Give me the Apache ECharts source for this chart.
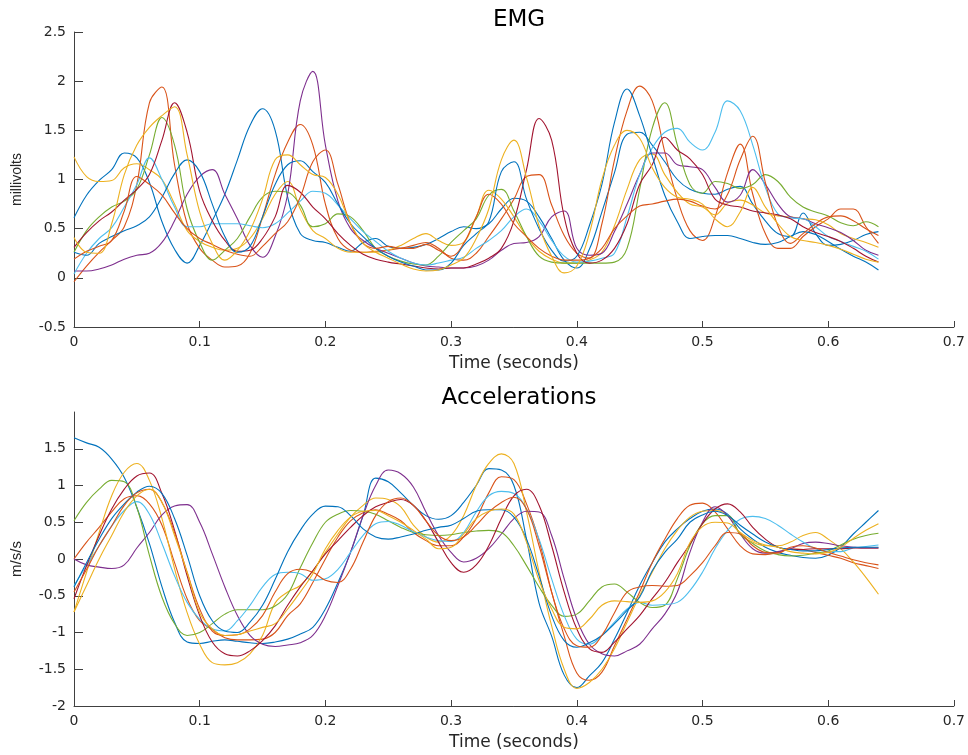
<!DOCTYPE html>
<html>
<head>
<meta charset="utf-8">
<script src="https://cdn.jsdelivr.net/npm/echarts@6/dist/echarts.min.js"></script>
<style>html,body{margin:0;padding:0;background:#fff;}#c{width:968px;height:755px;}</style>
</head>
<body>
<div id="c"></div>
<script>
// sample times (seconds)
const time = [0,0.01,0.02,0.03,0.04,0.05,0.06,0.07,0.08,0.09,0.10,0.11,0.12,0.13,0.14,0.15,0.16,0.17,0.18,0.19,0.20,0.21,0.22,0.23,0.24,0.25,0.26,0.27,0.28,0.29,0.30,0.31,0.32,0.33,0.34,0.35,0.36,0.37,0.38,0.39,0.40,0.41,0.42,0.43,0.44,0.45,0.46,0.47,0.48,0.49,0.50,0.51,0.52,0.53,0.54,0.55,0.56,0.57,0.58,0.59,0.60,0.61,0.62,0.63,0.64];

// EMG (millivolts)
const emgBlue1 = [0.61,0.84,0.99,1.10,1.27,1.22,0.97,0.57,0.29,0.15,0.33,0.58,0.85,1.20,1.55,1.72,1.50,0.82,0.45,0.38,0.36,0.31,0.27,0.36,0.40,0.32,0.30,0.31,0.34,0.40,0.47,0.52,0.50,0.55,0.70,0.81,0.78,0.62,0.40,0.18,0.10,0.29,0.67,1.07,1.46,1.48,1.35,1.18,1.00,0.90,0.86,0.85,0.90,0.93,0.75,0.58,0.45,0.42,0.66,0.45,0.33,0.34,0.38,0.44,0.47];
const emgOrange1 = [-0.04,0.12,0.26,0.38,0.52,0.95,1.78,1.94,1.15,0.55,0.30,0.18,0.11,0.12,0.25,0.62,1.05,1.38,1.56,1.35,0.75,0.40,0.28,0.26,0.27,0.28,0.30,0.33,0.36,0.30,0.20,0.18,0.25,0.42,0.60,0.80,1.03,1.05,0.74,0.43,0.25,0.20,0.55,1.20,1.70,1.95,1.80,1.28,0.80,0.48,0.38,0.62,1.07,1.36,0.85,0.45,0.30,0.30,0.42,0.52,0.60,0.70,0.70,0.52,0.35];
const emgYellow1 = [1.23,1.03,0.98,0.99,1.12,1.16,1.10,1.00,0.75,0.48,0.37,0.31,0.28,0.30,0.40,0.60,0.85,0.98,0.70,0.48,0.40,0.30,0.26,0.26,0.26,0.28,0.33,0.40,0.45,0.38,0.33,0.36,0.62,0.89,0.80,0.62,0.42,0.27,0.19,0.15,0.15,0.18,0.26,0.53,0.90,1.20,1.26,1.05,0.87,0.75,0.72,0.64,0.76,0.79,0.74,0.66,0.63,0.62,0.60,0.59,0.54,0.45,0.40,0.36,0.31];
const emgPurple = [0.07,0.07,0.09,0.13,0.19,0.23,0.25,0.36,0.58,0.85,1.03,1.10,0.85,0.60,0.33,0.21,0.42,0.85,1.80,2.10,1.35,0.78,0.50,0.38,0.30,0.25,0.20,0.15,0.12,0.11,0.10,0.10,0.12,0.18,0.28,0.35,0.36,0.42,0.62,0.68,0.30,0.23,0.25,0.47,0.75,1.05,1.27,1.27,1.15,1.13,1.10,0.92,0.77,0.84,1.10,0.95,0.75,0.62,0.60,0.55,0.51,0.46,0.38,0.28,0.23];
const emgGreen = [0.26,0.48,0.62,0.72,0.78,0.90,1.25,1.63,1.35,0.70,0.36,0.18,0.28,0.40,0.62,0.82,0.88,0.87,0.74,0.52,0.55,0.65,0.62,0.48,0.30,0.22,0.17,0.14,0.13,0.22,0.36,0.48,0.60,0.84,0.90,0.68,0.42,0.22,0.16,0.15,0.15,0.15,0.15,0.16,0.30,0.90,1.52,1.78,1.35,0.95,0.86,0.98,0.96,0.91,0.95,1.05,0.98,0.82,0.72,0.67,0.63,0.56,0.53,0.57,0.52];
const emgCyan = [0.04,0.25,0.40,0.51,0.72,0.95,1.22,1.00,0.72,0.52,0.52,0.55,0.55,0.55,0.53,0.51,0.55,0.66,0.78,0.88,0.86,0.74,0.60,0.47,0.37,0.27,0.20,0.15,0.13,0.15,0.18,0.21,0.30,0.38,0.48,0.62,0.70,0.58,0.38,0.22,0.16,0.17,0.20,0.25,0.62,1.05,1.32,1.48,1.52,1.38,1.30,1.48,1.80,1.70,1.35,0.92,0.65,0.61,0.60,0.52,0.42,0.37,0.32,0.27,0.19];
const emgDarkRed = [0.31,0.46,0.58,0.67,0.79,0.90,1.05,1.40,1.78,1.48,0.88,0.58,0.38,0.27,0.28,0.40,0.62,0.94,0.87,0.72,0.60,0.45,0.33,0.24,0.19,0.16,0.14,0.12,0.10,0.09,0.10,0.10,0.14,0.20,0.30,0.58,1.10,1.62,1.40,0.62,0.25,0.15,0.18,0.30,0.55,0.95,1.15,1.43,1.30,1.21,1.05,0.80,0.74,0.72,0.68,0.66,0.64,0.60,0.52,0.46,0.42,0.37,0.30,0.22,0.16];
const emgBlue2 = [0.26,0.23,0.35,0.42,0.48,0.53,0.62,0.82,1.06,1.20,1.08,0.75,0.42,0.26,0.32,0.62,0.95,1.15,1.19,1.08,0.97,0.75,0.55,0.42,0.30,0.22,0.16,0.12,0.08,0.08,0.15,0.33,0.45,0.57,1.08,1.18,0.80,0.50,0.28,0.17,0.22,0.53,0.95,1.58,1.92,1.65,1.24,0.84,0.57,0.40,0.42,0.43,0.43,0.40,0.36,0.34,0.36,0.42,0.47,0.44,0.37,0.29,0.22,0.16,0.08];
const emgOrange2 = [0.19,0.27,0.32,0.38,0.68,1.03,0.95,0.84,0.66,0.50,0.40,0.34,0.28,0.24,0.22,0.32,0.45,0.57,0.82,1.18,1.30,0.95,0.55,0.35,0.30,0.32,0.30,0.30,0.34,0.28,0.22,0.35,0.62,0.85,0.75,0.55,0.42,0.30,0.22,0.18,0.18,0.20,0.30,0.50,0.63,0.73,0.75,0.78,0.80,0.78,0.73,0.70,0.85,1.20,1.44,0.97,0.53,0.35,0.45,0.55,0.62,0.63,0.58,0.50,0.43];
const emgYellow2 = [0.41,0.26,0.25,0.55,1.05,1.35,1.53,1.65,1.74,1.25,0.67,0.35,0.18,0.28,0.48,0.80,1.20,1.25,1.15,1.05,1.02,0.85,0.55,0.35,0.26,0.20,0.14,0.09,0.07,0.08,0.13,0.20,0.40,0.70,1.20,1.40,1.02,0.53,0.22,0.05,0.12,0.45,1.00,1.35,1.50,1.42,1.12,0.92,0.82,0.80,0.75,0.60,0.52,0.67,0.92,0.72,0.55,0.42,0.38,0.36,0.33,0.29,0.24,0.19,0.16];

// Accelerations (m/s/s)
const accBlue1 = [1.65,1.58,1.52,1.36,1.11,0.70,0.21,-0.38,-0.86,-1.13,-1.15,-1.12,-1.10,-1.12,-1.14,-1.15,-1.13,-1.09,-1.02,-0.93,-0.68,-0.32,0.09,0.59,1.10,1.05,0.90,0.73,0.59,0.54,0.59,0.77,1.00,1.23,1.21,1.00,0.27,-0.60,-1.05,-1.58,-1.75,-1.59,-1.41,-1.09,-0.73,-0.36,-0.05,0.23,0.41,0.55,0.65,0.68,0.61,0.41,0.27,0.16,0.09,0.05,0.02,0.01,0.05,0.16,0.34,0.50,0.66];
const accOrange1 = [0.00,0.23,0.43,0.64,0.82,0.86,0.75,0.46,-0.05,-0.54,-0.84,-0.96,-1.07,-1.10,-1.10,-1.09,-1.00,-0.77,-0.61,-0.32,0.00,0.30,0.52,0.63,0.67,0.61,0.52,0.36,0.25,0.18,0.18,0.30,0.55,0.90,1.12,1.08,0.75,0.25,-0.45,-1.05,-1.55,-1.65,-1.54,-1.18,-0.82,-0.45,-0.05,0.27,0.55,0.73,0.76,0.64,0.41,0.18,0.07,0.06,0.09,0.14,0.13,0.09,0.05,0.01,-0.05,-0.09,-0.13];
const accYellow1 = [-0.72,-0.18,0.36,0.86,1.18,1.30,1.07,0.55,-0.13,-0.73,-1.16,-1.41,-1.44,-1.41,-1.29,-1.04,-0.60,-0.45,-0.36,-0.16,0.09,0.34,0.57,0.73,0.83,0.81,0.71,0.46,0.30,0.23,0.32,0.59,1.00,1.30,1.43,1.30,0.64,-0.18,-0.91,-1.50,-1.76,-1.68,-1.50,-1.22,-0.86,-0.50,-0.18,0.14,0.39,0.57,0.65,0.66,0.59,0.34,0.23,0.18,0.18,0.23,0.32,0.36,0.27,0.14,-0.04,-0.25,-0.48];
const accPurple = [0.00,-0.08,-0.11,-0.13,-0.08,0.15,0.36,0.60,0.72,0.74,0.50,0.07,-0.38,-0.77,-1.04,-1.16,-1.19,-1.17,-1.14,-1.04,-0.77,-0.36,0.09,0.59,1.00,1.21,1.16,0.98,0.64,0.32,0.09,-0.04,0.01,0.14,0.34,0.55,0.65,0.64,0.32,-0.27,-0.82,-1.16,-1.29,-1.32,-1.25,-1.16,-0.95,-0.75,-0.45,0.09,0.50,0.71,0.59,0.34,0.14,0.08,0.10,0.14,0.21,0.23,0.21,0.18,0.16,0.15,0.15];
const accGreen = [0.52,0.77,0.95,1.07,1.05,0.70,0.05,-0.52,-0.88,-1.04,-1.00,-0.88,-0.75,-0.69,-0.69,-0.69,-0.64,-0.48,-0.12,0.22,0.50,0.61,0.66,0.65,0.61,0.52,0.43,0.36,0.33,0.32,0.33,0.36,0.38,0.39,0.36,0.18,-0.09,-0.38,-0.63,-0.78,-0.75,-0.57,-0.38,-0.34,-0.45,-0.59,-0.66,-0.63,-0.27,0.18,0.48,0.59,0.59,0.34,0.21,0.11,0.06,0.04,0.05,0.08,0.11,0.19,0.27,0.32,0.35];
const accCyan = [-0.36,-0.09,0.18,0.45,0.66,0.78,0.61,0.21,-0.23,-0.59,-0.82,-0.95,-0.98,-0.84,-0.63,-0.38,-0.21,-0.18,-0.20,-0.29,-0.27,-0.14,0.09,0.32,0.48,0.51,0.46,0.37,0.30,0.25,0.24,0.36,0.64,0.86,0.92,0.89,0.68,0.27,-0.27,-0.77,-1.09,-1.16,-1.04,-0.86,-0.68,-0.59,-0.63,-0.62,-0.59,-0.43,-0.18,0.14,0.39,0.54,0.58,0.55,0.46,0.34,0.23,0.14,0.10,0.10,0.15,0.17,0.19];
const accDarkRed = [-0.54,-0.09,0.32,0.68,0.95,1.13,1.17,0.89,0.39,-0.23,-0.77,-1.13,-1.29,-1.32,-1.25,-1.11,-0.91,-0.63,-0.38,-0.16,0.07,0.25,0.43,0.59,0.71,0.77,0.81,0.73,0.52,0.23,-0.05,-0.18,-0.08,0.18,0.55,0.86,0.95,0.73,0.18,-0.45,-0.95,-1.22,-1.27,-1.13,-0.95,-0.77,-0.54,-0.32,-0.05,0.20,0.48,0.68,0.75,0.64,0.43,0.27,0.16,0.13,0.13,0.14,0.14,0.14,0.15,0.15,0.15];
const accBlue2 = [-0.38,-0.05,0.27,0.55,0.75,0.91,0.99,0.89,0.55,0.05,-0.50,-0.84,-0.98,-1.00,-0.86,-0.63,-0.28,0.10,0.39,0.61,0.72,0.71,0.59,0.41,0.30,0.27,0.30,0.34,0.39,0.43,0.46,0.55,0.65,0.67,0.67,0.57,0.27,-0.23,-0.77,-1.11,-1.20,-1.14,-1.04,-0.88,-0.70,-0.52,-0.16,0.09,0.27,0.50,0.60,0.65,0.59,0.46,0.34,0.23,0.16,0.13,0.11,0.11,0.13,0.15,0.16,0.16,0.16];
const accOrange2 = [-0.45,-0.14,0.18,0.45,0.73,0.90,0.95,0.77,0.36,-0.18,-0.68,-0.98,-1.04,-1.03,-0.95,-0.77,-0.45,-0.20,-0.14,-0.18,-0.29,-0.32,-0.14,0.23,0.59,0.78,0.83,0.73,0.52,0.32,0.25,0.30,0.46,0.64,0.77,0.84,0.68,0.18,-0.45,-0.95,-1.18,-1.20,-1.04,-0.73,-0.45,-0.38,-0.36,-0.37,-0.36,-0.23,-0.05,0.18,0.36,0.34,0.18,0.09,0.08,0.16,0.18,0.15,0.09,0.04,-0.01,-0.05,-0.08];
const accYellow2 = [-0.72,-0.36,0.00,0.32,0.64,0.86,0.95,0.77,0.32,-0.18,-0.73,-0.95,-1.04,-1.03,-0.98,-0.93,-0.88,-0.68,-0.45,-0.20,0.14,0.39,0.57,0.65,0.66,0.59,0.50,0.39,0.27,0.14,0.16,0.34,0.55,0.65,0.68,0.61,0.23,-0.29,-0.68,-0.93,-0.95,-0.82,-0.63,-0.57,-0.58,-0.59,-0.57,-0.45,-0.20,0.22,0.44,0.50,0.49,0.36,0.25,0.19,0.16,0.10,0.08,0.07,0.09,0.16,0.28,0.39,0.48];

const xTicks = [0,0.1,0.2,0.3,0.4,0.5,0.6,0.7];
const emgTicks = [-0.5,0,0.5,1,1.5,2,2.5];
const accTicks = [-2,-1.5,-1,-0.5,0,0.5,1,1.5];

const palette = ['#0072BD','#D95319','#EDB120','#7E2F8E','#77AC30','#4DBEEE','#A2142F'];
const emgSets = [emgBlue1,emgOrange1,emgYellow1,emgPurple,emgGreen,emgCyan,emgDarkRed,emgBlue2,emgOrange2,emgYellow2];
const accSets = [accBlue1,accOrange1,accYellow1,accPurple,accGreen,accCyan,accDarkRed,accBlue2,accOrange2,accYellow2];

const series = [];
function addSeries(sets, idx) {
  sets.forEach((vals, k) => {
    series.push({
      type: 'line', xAxisIndex: idx, yAxisIndex: idx,
      data: vals.map((v, i) => [time[i], v]),
      showSymbol: false, smooth: 0.4,
      lineStyle: { width: 1.1, color: palette[k % palette.length] },
      itemStyle: { color: palette[k % palette.length] },
      silent: true
    });
  });
}
addSeries(emgSets, 0);
addSeries(accSets, 1);

const axisColor = '#404040';
const tickFont = { fontFamily: 'DejaVu Sans', fontSize: 14, color: '#262626' };
function xAxis(gridIndex) {
  return {
    type: 'value', gridIndex, min: 0, max: 0.7, interval: 0.1,
    axisLine: { show: true, onZero: false, lineStyle: { color: axisColor, width: 1 } },
    axisTick: { show: true, inside: true, length: 6, lineStyle: { color: axisColor }, customValues: xTicks },
    splitLine: { show: false },
    axisLabel: Object.assign({ margin: 8, formatter: v => String(Math.round(v * 10) / 10), customValues: xTicks }, tickFont),
    name: 'Time (seconds)', nameLocation: 'middle', nameGap: 28,
    nameTextStyle: { fontFamily: 'DejaVu Sans', fontSize: 17, color: '#262626' }
  };
}
const option = {
  animation: false,
  backgroundColor: '#fff',
  title: [
    { text: 'EMG', left: 514, top: 4, textAlign: 'center', textStyle: { fontFamily: 'DejaVu Sans', fontSize: 23, fontWeight: 'normal', color: '#000' } },
    { text: 'Accelerations', left: 514, top: 382, textAlign: 'center', textStyle: { fontFamily: 'DejaVu Sans', fontSize: 23, fontWeight: 'normal', color: '#000' } }
  ],
  grid: [
    { left: 74, top: 32, width: 880, height: 295, containLabel: false },
    { left: 74, top: 412, width: 881, height: 294, containLabel: false }
  ],
  xAxis: [xAxis(0), xAxis(1)],
  yAxis: [
    {
      type: 'value', gridIndex: 0, min: -0.5, max: 2.5, interval: 0.5,
      axisLine: { show: true, onZero: false, lineStyle: { color: axisColor, width: 1 } },
      axisTick: { show: true, inside: true, length: 9, lineStyle: { color: axisColor }, customValues: emgTicks },
      splitLine: { show: false },
      axisLabel: Object.assign({ margin: 8, formatter: v => String(v), customValues: emgTicks }, tickFont),
      name: 'millivolts', nameLocation: 'middle', nameGap: 50, nameRotate: 90,
      nameTextStyle: { fontFamily: 'Liberation Sans', fontSize: 14, color: '#262626' }
    },
    {
      type: 'value', gridIndex: 1, min: -2, max: 2, interval: 0.5,
      axisLine: { show: true, onZero: false, lineStyle: { color: axisColor, width: 1 } },
      axisTick: { show: true, inside: true, length: 9, lineStyle: { color: axisColor }, customValues: accTicks },
      splitLine: { show: false },
      axisLabel: Object.assign({ margin: 8, formatter: v => String(v), customValues: accTicks }, tickFont),
      name: 'm/s/s', nameLocation: 'middle', nameGap: 50, nameRotate: 90,
      nameTextStyle: { fontFamily: 'Liberation Sans', fontSize: 15, color: '#262626' }
    }
  ],
  series
};
const chart = echarts.init(document.getElementById('c'), null, { renderer: 'canvas', width: 968, height: 755 });
chart.setOption(option);
</script>
</body>
</html>
